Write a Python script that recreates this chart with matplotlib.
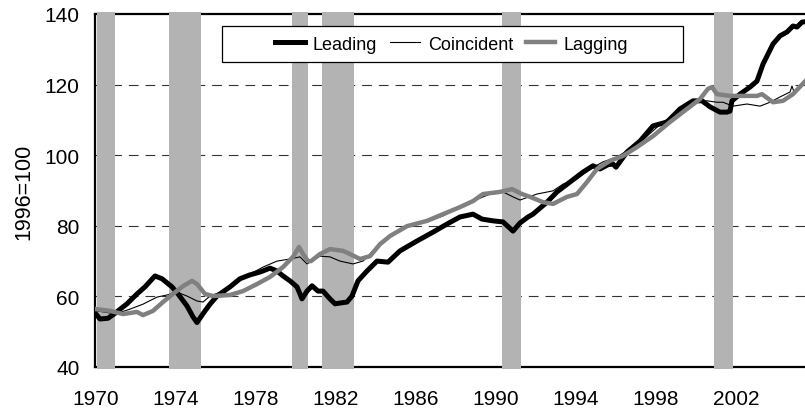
import matplotlib
matplotlib.use("Agg")
import matplotlib.pyplot as plt
from matplotlib.patches import Rectangle

plt.rcParams['font.family'] = ['Liberation Sans', 'DejaVu Sans']
plt.rcParams['lines.scale_dashes'] = False

# composite indexes, 1996=100
lead_years = [1970.0, 1970.2, 1970.6, 1970.95, 1971.3, 1971.55, 1972.05, 1972.45, 1972.95, 1973.3,
              1973.8, 1974.1, 1974.55, 1974.85, 1975.05, 1975.4, 1975.7, 1976.05, 1976.7, 1977.2,
              1977.7, 1978.2, 1978.7, 1979.05, 1979.35, 1979.7, 1980.05, 1980.3, 1980.55, 1980.8,
              1981.1, 1981.35, 1981.7, 1981.95, 1982.3, 1982.55, 1982.8, 1983.1, 1983.55, 1984.05,
              1984.6, 1985.2, 1986.05, 1986.85, 1987.55, 1988.2, 1988.85, 1989.3, 1989.85, 1990.35,
              1990.85, 1991.2, 1991.6, 1991.85, 1992.55, 1993.05, 1993.7, 1994.35, 1994.85, 1995.2,
              1995.6, 1995.85, 1996.0, 1996.55, 1997.2, 1997.85, 1998.55, 1999.2, 1999.85, 2000.3,
              2000.7, 2001.2, 2001.55, 2001.7, 2001.8, 2002.2, 2002.7, 2003.05, 2003.35, 2003.85,
              2004.2, 2004.55, 2004.85, 2005.05, 2005.3, 2005.45]
leading = [55.0, 53.6, 53.8, 55.2, 56.8, 57.9, 60.7, 62.7, 65.8, 65.0,
           62.7, 60.7, 57.3, 54.2, 52.6, 55.5, 57.8, 60.1, 62.7, 65.0,
           66.1, 66.9, 68.0, 67.2, 65.8, 64.4, 62.7, 59.3, 61.5, 63.0,
           61.5, 61.5, 59.3, 57.9, 58.2, 58.4, 60.1, 64.4, 67.2, 70.0,
           69.7, 72.9, 75.7, 78.2, 80.5, 82.5, 83.3, 81.9, 81.4, 81.1,
           78.5, 80.8, 82.5, 83.3, 86.7, 89.6, 92.4, 95.2, 97.0, 96.1,
           97.3, 97.5, 96.6, 100.9, 104.0, 108.3, 109.4, 113.1, 115.4, 115.4,
           113.7, 112.2, 112.2, 112.5, 115.4, 117.3, 119.3, 121.0, 125.8, 131.5,
           133.8, 134.9, 136.6, 136.3, 137.7, 137.8]

coin_years = [1970.0, 1970.5, 1970.95, 1971.7, 1972.35, 1973.05, 1973.55, 1974.05, 1974.55, 1975.05,
              1975.35, 1975.7, 1976.35, 1977.05, 1977.7, 1978.35, 1979.05, 1979.7, 1980.2, 1980.55,
              1980.7, 1981.2, 1981.7, 1982.2, 1982.85, 1983.35, 1984.05, 1984.7, 1985.55, 1986.55,
              1987.35, 1988.2, 1988.85, 1989.7, 1990.35, 1990.85, 1991.2, 1992.05, 1992.85, 1993.35,
              1994.05, 1994.7, 1995.35, 1996.05, 1996.7, 1997.55, 1998.35, 1999.2, 1999.85, 2000.55,
              2001.05, 2001.35, 2001.85, 2002.55, 2003.2, 2003.7, 2004.2, 2004.7, 2004.8, 2004.9,
              2005.45]
coincident = [55.9, 55.5, 55.0, 56.4, 57.8, 59.8, 60.4, 61.2, 60.1, 58.7,
              58.4, 60.1, 61.5, 64.1, 66.3, 68.3, 70.0, 70.6, 71.2, 69.2,
              69.7, 71.4, 71.2, 70.0, 69.2, 70.0, 74.0, 77.1, 79.7, 81.1,
              82.8, 85.3, 87.0, 89.0, 89.6, 88.2, 87.3, 89.0, 89.9, 91.8,
              93.3, 96.1, 98.1, 99.5, 101.8, 105.4, 109.4, 112.5, 115.0, 115.4,
              115.0, 115.0, 113.9, 114.5, 113.9, 115.0, 116.5, 117.9, 119.6, 117.9,
              121.0]

lag_years = [1970.0, 1970.7, 1971.35, 1972.05, 1972.35, 1972.85, 1973.35, 1973.85, 1974.35, 1974.8,
             1975.05, 1975.45, 1975.85, 1976.7, 1977.35, 1978.05, 1978.7, 1979.35, 1979.85, 1980.15,
             1980.35, 1980.6, 1980.75, 1981.2, 1981.7, 1982.35, 1982.7, 1983.2, 1983.7, 1984.2,
             1984.7, 1985.55, 1986.55, 1987.35, 1988.2, 1988.85, 1989.35, 1990.2, 1990.8, 1991.3,
             1991.7, 1992.35, 1992.85, 1993.55, 1994.05, 1994.55, 1995.05, 1995.7, 1996.35, 1997.05,
             1997.85, 1998.7, 1999.55, 2000.2, 2000.6, 2000.8, 2001.05, 2001.7, 2002.35, 2003.05,
             2003.3, 2003.85, 2004.35, 2004.85, 2005.45]
lagging = [56.4, 55.9, 55.0, 55.6, 54.7, 55.9, 58.4, 60.7, 62.9, 64.4,
           63.5, 60.7, 60.1, 60.4, 61.5, 63.5, 65.5, 68.3, 71.2, 74.0,
           72.0, 70.0, 70.0, 72.0, 73.4, 72.9, 72.0, 70.6, 71.4, 74.8,
           77.1, 79.9, 81.4, 83.3, 85.3, 87.0, 89.0, 89.6, 90.4, 89.0,
           88.2, 86.7, 86.2, 88.2, 89.0, 92.4, 96.1, 98.4, 99.8, 102.3,
           105.4, 109.4, 113.1, 115.9, 118.8, 119.3, 117.3, 116.8, 116.8, 116.8,
           117.3, 115.0, 115.4, 117.3, 120.9]

# recession periods (start, end)
recessions = [(1969.9, 1970.95), (1973.65, 1975.25), (1979.8, 1980.6),
              (1981.3, 1982.9), (1990.3, 1991.25), (2000.9, 2001.85)]

x_ticks = [1970, 1974, 1978, 1982, 1986, 1990, 1994, 1998, 2002]
y_ticks = [40, 60, 80, 100, 120, 140]
grid_levels = [60, 80, 100, 120]

fig = plt.figure(figsize=(8.05, 4.10), dpi=100)
ax = fig.add_axes([95 / 805, 42 / 410, 710 / 805, 353 / 410])

ax.set_xlim(1969.95, 2005.45)
ax.set_ylim(40, 140)

for lvl in grid_levels:
    ax.axhline(lvl, color='#333333', lw=0.8, linestyle=(0, (7, 5)), zorder=1)

for start, end in recessions:
    ax.axvspan(max(start, 1970.05), end, ymin=-0.006, ymax=1.006, color='#b3b3b3',
               lw=0, zorder=3, clip_on=False)

ax.plot(lead_years, leading, color='black', lw=3.6, solid_joinstyle='round',
        label='Leading', zorder=4)
ax.plot(coin_years, coincident, color='black', lw=0.8, label='Coincident', zorder=4)
ax.plot(lag_years, lagging, color='#808080', lw=3.2, solid_joinstyle='round',
        label='Lagging', zorder=4)

for side in ['left', 'bottom', 'top']:
    ax.spines[side].set_linewidth(1.6)
    ax.spines[side].set_color('black')
ax.spines['right'].set_visible(False)

ax.set_xticks(x_ticks)
ax.set_yticks(y_ticks)
ax.tick_params(axis='both', length=0, labelsize=15)
ax.tick_params(axis='y', pad=11)
ax.tick_params(axis='x', pad=15.5)

ax.set_ylabel('1996=100', fontsize=15.5)
ax.yaxis.set_label_coords(-0.085, 0.5)

# legend box
ax.add_patch(Rectangle((0.179, 0.864), 0.649, 0.102, transform=ax.transAxes,
                       facecolor='white', edgecolor='black', lw=0.9, zorder=5))
ax.legend(loc='center', bbox_to_anchor=(0.502, 0.915), ncol=3, frameon=False,
          fontsize=13, handlelength=1.65, handletextpad=0.45, columnspacing=0.7)
ax.get_legend().set_zorder(6)

fig.savefig('out.png', dpi=100)
